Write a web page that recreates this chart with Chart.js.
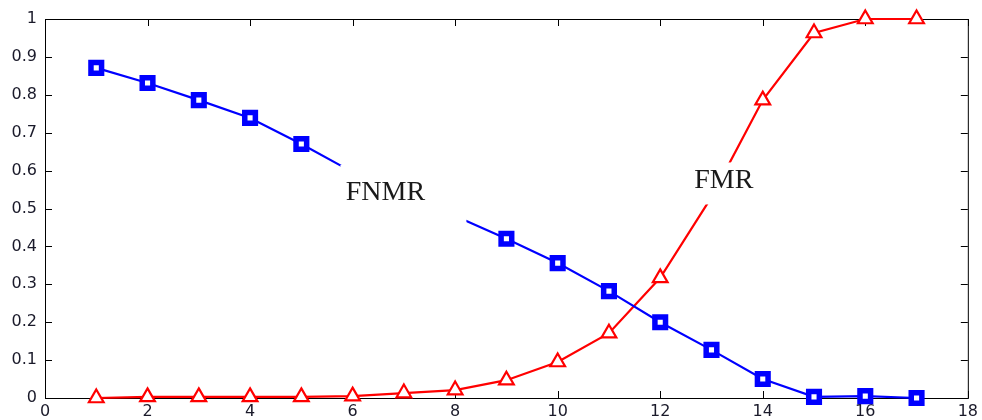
<!DOCTYPE html>
<html>
<head>
<meta charset="utf-8">
<script src="https://cdn.jsdelivr.net/npm/chart.js@4.4.0/dist/chart.umd.min.js"></script>
<style>
body { margin: 0; background: #fff; }
</style>
</head>
<body>
<canvas id="chart" width="982" height="420"></canvas>
<script>
// threshold index on x, error rate on y
var thresholds = [1, 2, 3, 4, 5, 6, 7, 8, 9, 10, 11, 12, 13, 14, 15, 16, 17];
var fnmr = [0.871, 0.831, 0.786, 0.739, 0.670, 0.596, 0.540, 0.480, 0.420, 0.356, 0.282, 0.200, 0.127, 0.050, 0.003, 0.005, 0.000];
var fmr = [0.000, 0.003, 0.003, 0.003, 0.003, 0.005, 0.013, 0.021, 0.047, 0.095, 0.171, 0.317, 0.530, 0.786, 0.963, 1.000, 1.000];
var seriesNames = ['FNMR', 'FMR'];
var xTicks = [0, 2, 4, 6, 8, 10, 12, 14, 16, 18];
var xTickLabels = ['0', '2', '4', '6', '8', '10', '12', '14', '16', '18'];
var yTicks = [0, 0.1, 0.2, 0.3, 0.4, 0.5, 0.6, 0.7, 0.8, 0.9, 1];
var yTickLabels = ['0', '0.1', '0.2', '0.3', '0.4', '0.5', '0.6', '0.7', '0.8', '0.9', '1'];

function toPoints(ys) {
    return thresholds.map(function (x, i) { return { x: x, y: ys[i] }; });
}

// markers that sit under the text boxes are not drawn
function hideUnder(hidden) {
    return function (ctx) { return hidden.indexOf(ctx.dataIndex) >= 0 ? 0 : ctx.dataset.baseRadius; };
}

var tickFont = { family: 'DejaVu Sans', size: 16 };

// box around the plot plus inward ticks on all four sides
var framePlugin = {
    id: 'frame',
    beforeDatasetsDraw: function (chart) {
        var a = chart.chartArea, ctx = chart.ctx;
        var xs = chart.scales.x, ys = chart.scales.y;
        var len = 7;
        ctx.save();
        ctx.strokeStyle = '#000';
        ctx.lineWidth = 1;
        ctx.strokeRect(a.left + 0.5, a.top + 0.5, a.right - a.left, a.bottom - a.top);
        ctx.beginPath();
        xTicks.forEach(function (v) {
            var px = Math.round(xs.getPixelForValue(v)) + 0.5;
            ctx.moveTo(px, a.bottom); ctx.lineTo(px, a.bottom - len);
            ctx.moveTo(px, a.top); ctx.lineTo(px, a.top + len);
        });
        yTicks.forEach(function (v) {
            var py = Math.round(ys.getPixelForValue(v)) + 0.5;
            ctx.moveTo(a.left, py); ctx.lineTo(a.left + len, py);
            ctx.moveTo(a.right, py); ctx.lineTo(a.right - len, py);
        });
        ctx.stroke();
        ctx.restore();
    },
    afterDatasetsDraw: function (chart, args, opts) {
        var ctx = chart.ctx;
        var xs = chart.scales.x, ys = chart.scales.y;
        ctx.save();
        opts.labels.forEach(function (l, i) {
            var cx = xs.getPixelForValue(l.x), cy = ys.getPixelForValue(l.y);
            ctx.fillStyle = '#fff';
            ctx.fillRect(cx + l.box[0], cy + l.box[1], l.box[2] - l.box[0], l.box[3] - l.box[1]);
            ctx.fillStyle = '#1a1a1a';
            ctx.font = '28px "Liberation Serif"';
            ctx.textAlign = 'center';
            ctx.textBaseline = 'middle';
            ctx.fillText(seriesNames[i], cx, cy);
        });
        ctx.restore();
    }
};

var ctx = document.getElementById('chart').getContext('2d');
var chart = new Chart(ctx, {
    type: 'line',
    data: {
        datasets: [{
            label: seriesNames[0],
            data: toPoints(fnmr),
            borderColor: '#0000ff',
            borderWidth: 2.2,
            backgroundColor: '#ffffff',
            pointStyle: 'rect',
            baseRadius: 7.5,
            pointRadius: hideUnder([5, 6, 7]),
            pointBorderWidth: 5.5,
            pointBorderColor: '#0000ff',
            pointBackgroundColor: '#ffffff',
            tension: 0,
            clip: false
        }, {
            label: seriesNames[1],
            data: toPoints(fmr),
            borderColor: '#ff0000',
            borderWidth: 2.2,
            backgroundColor: '#ffffff',
            pointStyle: 'triangle',
            baseRadius: 8.5,
            pointRadius: hideUnder([12]),
            pointBorderWidth: 2.2,
            pointBorderColor: '#ff0000',
            pointBackgroundColor: '#ffffff',
            tension: 0,
            clip: false
        }]
    },
    options: {
        responsive: false,
        animation: false,
        events: [],
        layout: { padding: { top: 19, right: 14, left: 0, bottom: 0 } },
        plugins: {
            legend: { display: false },
            tooltip: { enabled: false },
            frame: {
                labels: [
                    { x: 6.64, y: 0.541, box: [-45, -28, 81, 32] },
                    { x: 13.24, y: 0.574, box: [-36, -18, 36, 24] }
                ]
            }
        },
        scales: {
            x: {
                type: 'linear',
                min: 0,
                max: 18,
                grid: { display: false, drawTicks: false },
                border: { display: false },
                afterFit: function (s) { s.height = 22; },
                afterBuildTicks: function (s) { s.ticks = xTicks.map(function (v) { return { value: v }; }); },
                ticks: {
                    padding: 4,
                    color: '#1a1a2a',
                    font: tickFont,
                    maxRotation: 0,
                    autoSkip: false,
                    callback: function (v) { return xTickLabels[xTicks.indexOf(v)]; }
                }
            },
            y: {
                min: 0,
                max: 1,
                grid: { display: false, drawTicks: false },
                border: { display: false },
                afterFit: function (s) { s.width = 45; },
                afterBuildTicks: function (s) { s.ticks = yTicks.map(function (v) { return { value: v }; }); },
                ticks: {
                    padding: 8,
                    color: '#1a1a2a',
                    font: tickFont,
                    autoSkip: false,
                    callback: function (v) { return yTickLabels[yTicks.indexOf(v)]; }
                }
            }
        }
    },
    plugins: [framePlugin]
});
</script>
</body>
</html>
